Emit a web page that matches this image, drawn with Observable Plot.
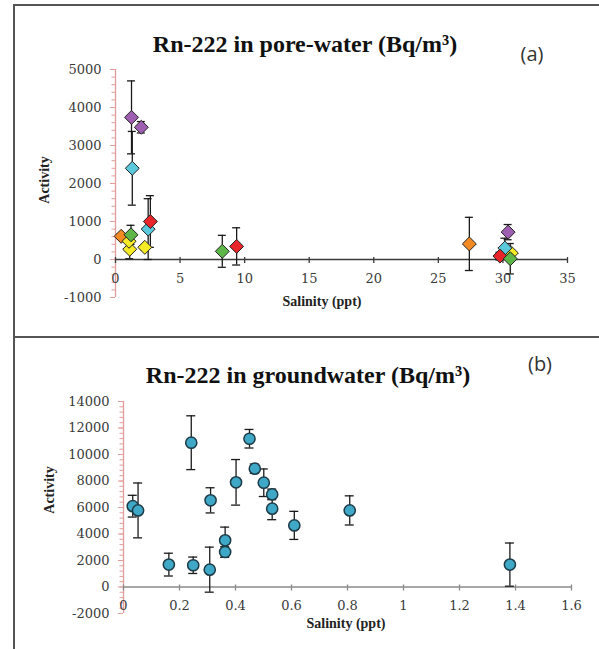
<!DOCTYPE html>
<html>
<head>
<meta charset="utf-8">
<script src="https://cdn.jsdelivr.net/npm/d3@7"></script>
<script src="https://cdn.jsdelivr.net/npm/@observablehq/plot@0.6"></script>
<style>
  body { margin: 0; background: #fff; }
  #wrap { position: relative; width: 599px; height: 649px; overflow: hidden; background: #fff; }
  .abs { position: absolute; white-space: nowrap; }
  .box { position: absolute; border-left: 2px solid #555; border-top: 2px solid #555; border-bottom: 2px solid #555; }
  .title { font-family: "Liberation Serif", "Times New Roman", serif; font-weight: bold; font-size: 24px; line-height: 24px; color: #111; transform: translateX(-50%); }
  .tag { font-family: "Open Sans", sans-serif; font-size: 20px; line-height: 20px; color: #333; transform: translateX(-50%); }
  .axl { font-family: "Liberation Serif", "Times New Roman", serif; font-weight: bold; font-size: 14px; line-height: 14px; color: #222; transform: translateX(-50%); }
  .ayl { font-family: "Liberation Serif", "Times New Roman", serif; font-weight: bold; font-size: 14px; line-height: 14px; color: #222; transform: translate(-50%, -50%) rotate(-90deg); }
  svg { position: absolute; left: 0; }
</style>
</head>
<body>
<div id="wrap">
  <div class="box" style="left:13px; top:4px; width:600px; height:330px;"></div>
  <div class="box" style="left:13px; top:336px; width:600px; height:320px;"></div>
  <div id="chartA"></div>
  <div id="chartB"></div>
  <div class="abs title" style="left:305px; top:32px;">Rn-222 in pore-water (Bq/m³)</div>
  <div class="abs tag" style="left:532px; top:44px;">(a)</div>
  <div class="abs ayl" style="left:45px; top:180px;">Activity</div>
  <div class="abs axl" style="left:322px; top:295px;">Salinity (ppt)</div>
  <div class="abs title" style="left:308px; top:363px;">Rn-222 in groundwater (Bq/m³)</div>
  <div class="abs tag" style="left:540px; top:354px;">(b)</div>
  <div class="abs ayl" style="left:50px; top:490px;">Activity</div>
  <div class="abs axl" style="left:346px; top:617px;">Salinity (ppt)</div>
</div>
<script>
// ---------- Panel (a): Rn-222 in pore-water ----------
const seriesNames  = ["s1", "s2", "s3", "s4", "s5", "s6"];
const seriesColors = ["#f28a23", "#f5ea26", "#5bc8dc", "#9e5fb0", "#e8252b", "#5eb548"];

const poreSeries   = ["s1", "s1", "s2", "s2", "s2", "s2", "s3", "s3", "s3", "s4", "s4", "s4", "s5", "s5", "s5", "s6", "s6", "s6"];
const poreSalinity = [0.44, 27.4, 1.1, 1.05, 2.27, 30.65, 1.3, 2.53, 30.15, 1.24, 2.0, 30.4, 2.7, 9.38, 29.77, 1.2, 8.27, 30.57];
const poreActivity = [610, 410, 270, 480, 320, 170, 2400, 800, 300, 3740, 3480, 720, 1000, 345, 90, 650, 215, 20];
const poreError    = [60, 700, 250, 0, 60, 60, 970, 800, 260, 960, 150, 200, 680, 490, 100, 250, 420, 400];

const poreXTicks  = [0, 5, 10, 15, 20, 25, 30, 35];
const poreXLabels = ["0", "5", "10", "15", "20", "25", "30", "35"];
const poreYTicks  = [-1000, 0, 1000, 2000, 3000, 4000, 5000];
const poreYLabels = ["-1000", "0", "1000", "2000", "3000", "4000", "5000"];
const poreYMinor  = d3.range(-1000, 5001, 200);

// ---------- Panel (b): Rn-222 in groundwater ----------
const gwSalinity = [0.033, 0.052, 0.162, 0.242, 0.249, 0.308, 0.311, 0.363, 0.363, 0.402, 0.45, 0.469, 0.501, 0.531, 0.531, 0.61, 0.808, 1.38];
const gwActivity = [6100, 5780, 1690, 10890, 1640, 1310, 6540, 3520, 2640, 7900, 11190, 8930, 7870, 6990, 5910, 4650, 5780, 1690];
const gwError    = [820, 2070, 860, 2030, 620, 1700, 950, 1000, 400, 1720, 700, 350, 1040, 400, 830, 1060, 1100, 1630];

const gwXTicks  = [0, 0.2, 0.4, 0.6, 0.8, 1, 1.2, 1.4, 1.6];
const gwXLabels = ["0", "0.2", "0.4", "0.6", "0.8", "1", "1.2", "1.4", "1.6"];
const gwYTicks  = [-2000, 0, 2000, 4000, 6000, 8000, 10000, 12000, 14000];
const gwYLabels = ["-2000", "0", "2000", "4000", "6000", "8000", "10000", "12000", "14000"];
const gwYMinor  = d3.range(-2000, 14001, 400);

const pink = "#e39c9c";
const tickFont = {fontFamily: "DejaVu Serif, serif", fontSize: 13, fill: "#3a3a3a"};

function axisMarks(xTicks, xLabels, yTicks, yLabels, yMinor, xAxisColor) {
  const x0 = xTicks[0], xN = xTicks[xTicks.length - 1];
  const y0 = yTicks[0], yN = yTicks[yTicks.length - 1];
  return [
    Plot.ruleY(yMinor, {y: d => d, x1: () => x0, x2: () => x0, insetLeft: -3.5, stroke: pink, strokeWidth: 1}),
    Plot.ruleY(yTicks, {y: d => d, x1: () => x0, x2: () => x0, insetLeft: -5, stroke: pink, strokeWidth: 1}),
    Plot.ruleX([x0], {x: d => d, y1: () => y0, y2: () => yN, stroke: pink, strokeWidth: 1.3}),
    Plot.text(yTicks, {y: d => d, frameAnchor: "left", textAnchor: "end", dx: -14, text: (d, i) => yLabels[i], ...tickFont}),
    Plot.ruleY([0], {y: d => d, x1: () => x0, x2: () => xN, stroke: xAxisColor, strokeWidth: 1.4}),
    Plot.ruleX(xTicks, {x: d => d, y1: () => 0, y2: () => 0, insetTop: -2, insetBottom: -4, stroke: xAxisColor, strokeWidth: 1.3}),
    Plot.text(xTicks, {x: d => d, y: () => 0, dy: 19, text: (d, i) => xLabels[i], ...tickFont})
  ];
}

function errorMarks(rows, cap) {
  return [
    Plot.ruleX(rows, {x: "x", y1: d => d.y - d.e, y2: d => d.y + d.e, stroke: "#1a1a1a", strokeWidth: 1.3}),
    Plot.ruleY(rows, {y: d => d.y + d.e, x1: "x", x2: "x", insetLeft: -cap, insetRight: -cap, stroke: "#1a1a1a", strokeWidth: 1.3}),
    Plot.ruleY(rows, {y: d => d.y - d.e, x1: "x", x2: "x", insetLeft: -cap, insetRight: -cap, stroke: "#1a1a1a", strokeWidth: 1.3})
  ];
}

const pore = poreSalinity
  .map((x, i) => ({x, y: poreActivity[i], e: poreError[i], s: poreSeries[i]}))
  .sort((a, b) => seriesNames.indexOf(a.s) - seriesNames.indexOf(b.s));

const plotA = Plot.plot({
  width: 599, height: 340,
  marginLeft: 115, marginRight: 32, marginTop: 69, marginBottom: 43,
  x: {domain: [poreXTicks[0], poreXTicks[poreXTicks.length - 1]], axis: null},
  y: {domain: [poreYTicks[0], poreYTicks[poreYTicks.length - 1]], axis: null},
  color: {type: "ordinal", domain: seriesNames, range: seriesColors},
  style: {background: "transparent", overflow: "visible"},
  marks: [
    ...axisMarks(poreXTicks, poreXLabels, poreYTicks, poreYLabels, poreYMinor, "#3a3a3a"),
    ...errorMarks(pore, 4),
    Plot.dot(pore, {x: "x", y: "y", fill: "s", symbol: "diamond2", r: 6.3, stroke: "#222", strokeWidth: 1})
  ]
});
plotA.style.top = "0px";
document.getElementById("chartA").appendChild(plotA);

const gw = gwSalinity.map((x, i) => ({x, y: gwActivity[i], e: gwError[i]}));

const plotB = Plot.plot({
  width: 599, height: 312,
  marginLeft: 123, marginRight: 28, marginTop: 64, marginBottom: 36,
  x: {domain: [gwXTicks[0], gwXTicks[gwXTicks.length - 1]], axis: null},
  y: {domain: [gwYTicks[0], gwYTicks[gwYTicks.length - 1]], axis: null},
  style: {background: "transparent", overflow: "visible"},
  marks: [
    ...axisMarks(gwXTicks, gwXLabels, gwYTicks, gwYLabels, gwYMinor, "#8a8a8a"),
    ...errorMarks(gw, 4.5),
    Plot.dot(gw, {x: "x", y: "y", fill: "#3fa8c6", r: 5.6, stroke: "#1d3a47", strokeWidth: 1.5})
  ]
});
plotB.style.top = "337px";
document.getElementById("chartB").appendChild(plotB);
</script>
</body>
</html>
